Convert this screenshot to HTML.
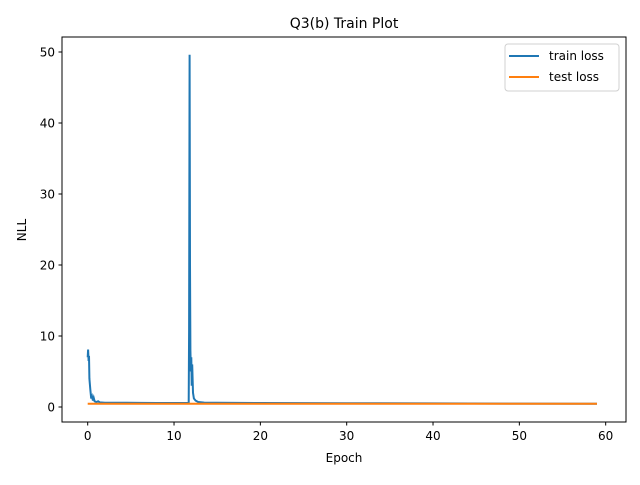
<!DOCTYPE html>
<html><head><meta charset="utf-8"><style>
body{margin:0;background:#fff}
svg{font-family:"DejaVu Sans","Liberation Sans",sans-serif}
</style></head><body>
<svg id="c" width="640" height="480" viewBox="0 0 640 480">
<rect width="640" height="480" fill="#fff"/>
<text x="344" y="28" font-size="14" text-anchor="middle">Q3(b) Train Plot</text>
<g id="plot"></g>
<rect x="62" y="37" width="564" height="385" fill="none" stroke="#000" stroke-width="1"/>
<g id="ticks"></g>
<text x="344" y="462" font-size="12" text-anchor="middle">Epoch</text>
<text x="26" y="230" font-size="12" text-anchor="middle" transform="rotate(-90 26 230)">NLL</text>
<g>
<rect x="505" y="44" width="114" height="47" rx="3" fill="#fff" stroke="#ccc" opacity="0.9"/>
<line x1="509" y1="56" x2="539" y2="56" stroke="#1f77b4" stroke-width="2"/>
<text x="549" y="60" font-size="12">train loss</text>
<line x1="509" y1="77" x2="539" y2="77" stroke="#ff7f0e" stroke-width="2"/>
<text x="549" y="81" font-size="12">test loss</text>
</g>
</svg>
<script>
const trainEpochs=[0,0.05,0.1,0.15,0.2,0.3,0.4,0.5,0.6,0.7,0.8,1.0,1.2,1.4,2,4,6,8,10,11.7,11.75,11.8,11.85,11.9,11.95,12.0,12.05,12.1,12.2,12.3,12.5,12.8,13.5,15,20,30,40,50,59];
const trainLoss=[7,8.1,6.5,7.2,4,2.5,1.2,1.5,0.9,1.3,0.8,0.7,0.8,0.65,0.6,0.6,0.58,0.57,0.57,0.57,11,49.6,20,8,5,7,3,6,2,1.2,0.9,0.7,0.62,0.6,0.57,0.53,0.5,0.48,0.47];
const testEpochs=[0,59];
const testLoss=[0.45,0.45];
const xTicks=[0,10,20,30,40,50,60];
const yTicks=[0,10,20,30,40,50];
const X=v=>87.7+v*8.633, Y=v=>407-v*7.1;
const NS="http://www.w3.org/2000/svg";
const plot=document.getElementById('plot'), ticks=document.getElementById('ticks');
function line(xs,ys,color,name){const p=document.createElementNS(NS,'polyline');
p.setAttribute('points',xs.map((x,i)=>X(x).toFixed(1)+','+Y(ys[i]).toFixed(1)).join(' '));
p.setAttribute('fill','none');p.setAttribute('stroke',color);p.setAttribute('stroke-width','2');


plot.appendChild(p);}
line(trainEpochs,trainLoss,'#1f77b4','train-loss-line');
line(testEpochs,testLoss,'#ff7f0e','test-loss-line');
xTicks.forEach(t=>{const x=X(t);
const l=document.createElementNS(NS,'line');l.setAttribute('x1',x);l.setAttribute('x2',x);l.setAttribute('y1',422);l.setAttribute('y2',425.5);l.setAttribute('stroke','#000');


ticks.appendChild(l);
const tx=document.createElementNS(NS,'text');tx.setAttribute('x',x);tx.setAttribute('y',440);tx.setAttribute('font-size','12');tx.setAttribute('text-anchor','middle');tx.textContent=t;


ticks.appendChild(tx);});
yTicks.forEach(t=>{const y=Y(t);
const l=document.createElementNS(NS,'line');l.setAttribute('x1',58.5);l.setAttribute('x2',62);l.setAttribute('y1',y);l.setAttribute('y2',y);l.setAttribute('stroke','#000');


ticks.appendChild(l);
const tx=document.createElementNS(NS,'text');tx.setAttribute('x',55);tx.setAttribute('y',y+4.5);tx.setAttribute('font-size','12');tx.setAttribute('text-anchor','end');tx.textContent=t;


ticks.appendChild(tx);});
</script>
</body></html>
